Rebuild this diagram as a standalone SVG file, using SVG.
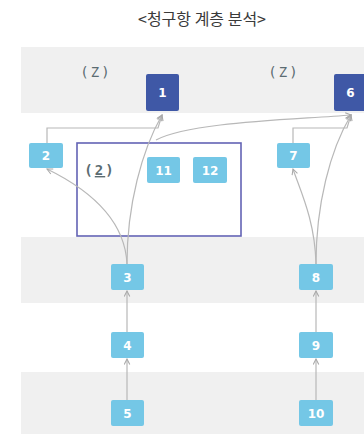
<svg xmlns="http://www.w3.org/2000/svg" width="364" height="434" viewBox="0 0 364 434">
<defs>
<style>
.band{fill:#f0f0f0}
.nl rect{fill:#74c7e6}
.nd rect{fill:#3f58a6}
.nl text,.nd text{fill:#ffffff;font-family:"DejaVu Sans",sans-serif;font-weight:bold;font-size:12px;text-anchor:middle}
.lbl{fill:#5b6c72;font-family:"DejaVu Sans Mono",monospace;font-size:14px;letter-spacing:2px;text-anchor:middle}
.title{fill:#3a3a3a;font-family:"Noto Sans CJK KR","Noto Sans",sans-serif;font-size:16px;text-anchor:middle}
.c path{fill:none;stroke:#b8b8b8;stroke-width:1.2}
</style>
<marker id="ah" viewBox="0 0 10 10" refX="9" refY="5" markerWidth="7" markerHeight="7" orient="auto-start-reverse" markerUnits="userSpaceOnUse">
<path d="M1,1 L9,5 L1,9" fill="none" stroke="#a8a8a8" stroke-width="1.5"/>
</marker>
</defs>
<rect width="364" height="434" fill="#ffffff"/>
<rect class="band" x="21" y="47" width="343" height="66"/>
<rect class="band" x="21" y="237" width="343" height="66"/>
<rect class="band" x="21" y="372" width="343" height="62"/>
<text class="title" x="202" y="25">&lt;청구항 계층 분석&gt;</text>
<text class="lbl" x="96" y="77">(Z)</text>
<text class="lbl" x="284" y="77">(Z)</text>
<g id="box">
<rect x="77" y="143" width="164" height="93" fill="none" stroke="#6363b5" stroke-width="1.6"/>
<text class="lbl" x="100" y="175" font-weight="bold">(<tspan text-decoration="underline">2</tspan>)</text>
</g>
<g class="c" id="connectors">
<path d="M47,143 L47,128 L158,128 L162,115" marker-end="url(#ah)"/>
<path d="M127,264 C127,205 142,150 162,115" marker-end="url(#ah)"/>
<path d="M127,264 C125,220 90,190 47,169" marker-end="url(#ah)"/>
<path d="M156,140 C190,122 290,120 351,115" marker-end="url(#ah)"/>
<path d="M293,143 L293,128 L347,128 L351,115" marker-end="url(#ah)"/>
<path d="M316,264 C316,205 330,150 351,115" marker-end="url(#ah)"/>
<path d="M316,264 C315,220 300,190 293,169" marker-end="url(#ah)"/>
<path d="M127,332 L127,291" marker-end="url(#ah)"/>
<path d="M127,400 L127,359" marker-end="url(#ah)"/>
<path d="M316,332 L316,291" marker-end="url(#ah)"/>
<path d="M316,400 L316,359" marker-end="url(#ah)"/>
</g>
<g id="n1" class="nd"><rect x="146" y="74" width="33" height="37" rx="2"/><text x="162.5" y="97">1</text></g>
<g id="n6" class="nd"><rect x="334" y="74" width="33" height="37" rx="2"/><text x="350.5" y="97">6</text></g>
<g id="n2" class="nl"><rect x="29" y="143" width="34" height="25" rx="2"/><text x="46" y="160">2</text></g>
<g id="n11" class="nl"><rect x="147" y="157" width="33" height="26" rx="2"/><text x="163.5" y="174.5">11</text></g>
<g id="n12" class="nl"><rect x="193" y="157" width="34" height="26" rx="2"/><text x="210" y="174.5">12</text></g>
<g id="n7" class="nl"><rect x="277" y="143" width="33" height="25" rx="2"/><text x="293.5" y="160">7</text></g>
<g id="n3" class="nl"><rect x="111" y="264" width="33" height="26" rx="2"/><text x="127.5" y="281.5">3</text></g>
<g id="n4" class="nl"><rect x="111" y="332" width="33" height="26" rx="2"/><text x="127.5" y="349.5">4</text></g>
<g id="n5" class="nl"><rect x="111" y="400" width="33" height="26" rx="2"/><text x="127.5" y="417.5">5</text></g>
<g id="n8" class="nl"><rect x="299" y="264" width="34" height="26" rx="2"/><text x="316" y="281.5">8</text></g>
<g id="n9" class="nl"><rect x="299" y="332" width="34" height="26" rx="2"/><text x="316" y="349.5">9</text></g>
<g id="n10" class="nl"><rect x="299" y="400" width="34" height="26" rx="2"/><text x="316" y="417.5">10</text></g>
</svg>
